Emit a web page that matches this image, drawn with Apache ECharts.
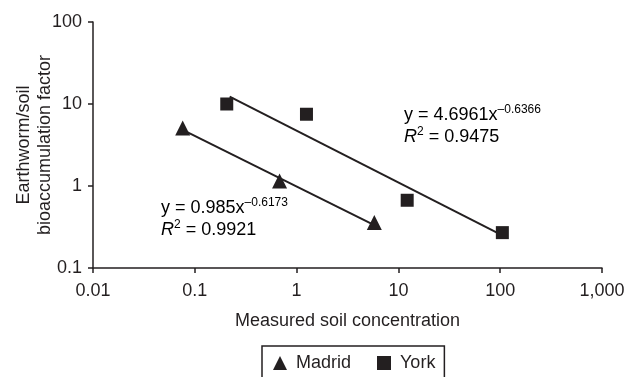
<!DOCTYPE html>
<html>
<head>
<meta charset="utf-8">
<script src="https://cdn.jsdelivr.net/npm/echarts@6/dist/echarts.min.js"></script>
<style>
  html, body { margin: 0; padding: 0; background: #fff; }
  #chart { width: 635px; height: 377px; }
</style>
</head>
<body>
<div id="chart"></div>
<script>
var dom = document.getElementById('chart');
var myChart = echarts.init(dom, null, { renderer: 'canvas' });

// points
var madridPts = [[0.076, 5.1], [0.68, 1.15], [5.8, 0.36]];
var yorkPts = [[0.206, 10], [1.25, 7.5], [12.2, 0.67], [105, 0.27]];
// power-law fit lines, ends
var madridFit = [[0.076, 4.83], [5.8, 0.333]];
var yorkFit = [[0.22, 12.3], [105, 0.25]];

var xTicks = { 0.01: '0.01', 0.1: '0.1', 1: '1', 10: '10', 100: '100', 1000: '1,000' };
var yTicks = { 0.1: '0.1', 1: '1', 10: '10', 100: '100' };

var ink = '#231f20';
var font = '"Liberation Sans", Arial, sans-serif';

function tickLabel(map) {
  return function (v) {
    var k = Object.keys(map).find(function (key) { return Math.abs(Math.log10(v) - Math.log10(+key)) < 1e-6; });
    return k ? map[k] : '';
  };
}

var eqRich = {
  b: { fontFamily: font, fontSize: 18, color: ink },
  i: { fontFamily: font, fontSize: 18, color: ink, fontStyle: 'italic' },
  sup: { fontFamily: font, fontSize: 12, color: ink, verticalAlign: 'top', padding: [0, 0, 10, 0] }
};

var option = {
  animation: false,
  grid: { left: 93, right: 33, top: 22, bottom: 109, outerBoundsMode: 'none', containLabel: false },
  xAxis: {
    type: 'log',
    logBase: 10,
    min: 0.01,
    max: 1000,
    name: 'Measured soil concentration',
    nameLocation: 'middle',
    nameGap: 53,
    nameMoveOverlap: false,
    nameTextStyle: { fontFamily: font, fontSize: 18, color: ink, verticalAlign: 'middle' },
    axisLine: { lineStyle: { color: ink, width: 1.5 } },
    axisTick: { length: 5, lineStyle: { color: ink, width: 1.5 } },
    minorTick: { show: false },
    splitLine: { show: false },
    axisLabel: { fontFamily: font, fontSize: 18, color: ink, margin: 14, formatter: tickLabel(xTicks) }
  },
  yAxis: {
    type: 'log',
    logBase: 10,
    min: 0.1,
    max: 100,
    name: 'Earthworm/soil\nbioaccumulation factor',
    nameLocation: 'middle',
    nameGap: 58,
    nameMoveOverlap: false,
    nameTextStyle: { fontFamily: font, fontSize: 18, color: ink, lineHeight: 21, verticalAlign: 'middle' },
    axisLine: { show: true, lineStyle: { color: ink, width: 1.5 } },
    axisTick: { show: true, length: 5, lineStyle: { color: ink, width: 1.5 } },
    splitLine: { show: false },
    axisLabel: { fontFamily: font, fontSize: 18, color: ink, margin: 11, formatter: tickLabel(yTicks) }
  },
  legend: {
    data: [
      { name: 'Madrid', icon: 'triangle' },
      { name: 'York', icon: 'rect' }
    ],
    left: 262,
    top: 346,
    itemWidth: 14,
    itemHeight: 14,
    itemGap: 26,
    padding: [8, 9, 30, 11],
    borderColor: ink,
    borderWidth: 1.5,
    borderRadius: 0,
    textStyle: { fontFamily: font, fontSize: 18, color: ink, padding: [0, 0, 0, 4] }
  },
  series: [
    {
      name: 'Madrid fit',
      type: 'line',
      data: madridFit,
      showSymbol: false,
      lineStyle: { color: ink, width: 2 },
      silent: true,
      z: 1
    },
    {
      name: 'York fit',
      type: 'line',
      data: yorkFit,
      showSymbol: false,
      lineStyle: { color: ink, width: 2 },
      silent: true,
      z: 1
    },
    {
      name: 'Madrid',
      type: 'scatter',
      data: madridPts,
      symbol: 'triangle',
      symbolSize: 15,
      itemStyle: { color: ink, opacity: 1 },
      z: 3
    },
    {
      name: 'York',
      type: 'scatter',
      data: yorkPts,
      symbol: 'rect',
      symbolSize: 13,
      itemStyle: { color: ink, opacity: 1 },
      z: 3
    }
  ],
  graphic: [
    {
      type: 'text',
      left: 404,
      top: 104,
      style: {
        text: '{b|y = 4.6961x}{sup|\u20130.6366}\n{i|R}{sup|2}{b| = 0.9475}',
        rich: eqRich,
        lineHeight: 22
      }
    },
    {
      type: 'text',
      left: 161,
      top: 197,
      style: {
        text: '{b|y = 0.985x}{sup|\u20130.6173}\n{i|R}{sup|2}{b| = 0.9921}',
        rich: eqRich,
        lineHeight: 22
      }
    }
  ]
};

myChart.setOption(option);

window.addEventListener('resize', myChart.resize);
</script>
</body>
</html>
